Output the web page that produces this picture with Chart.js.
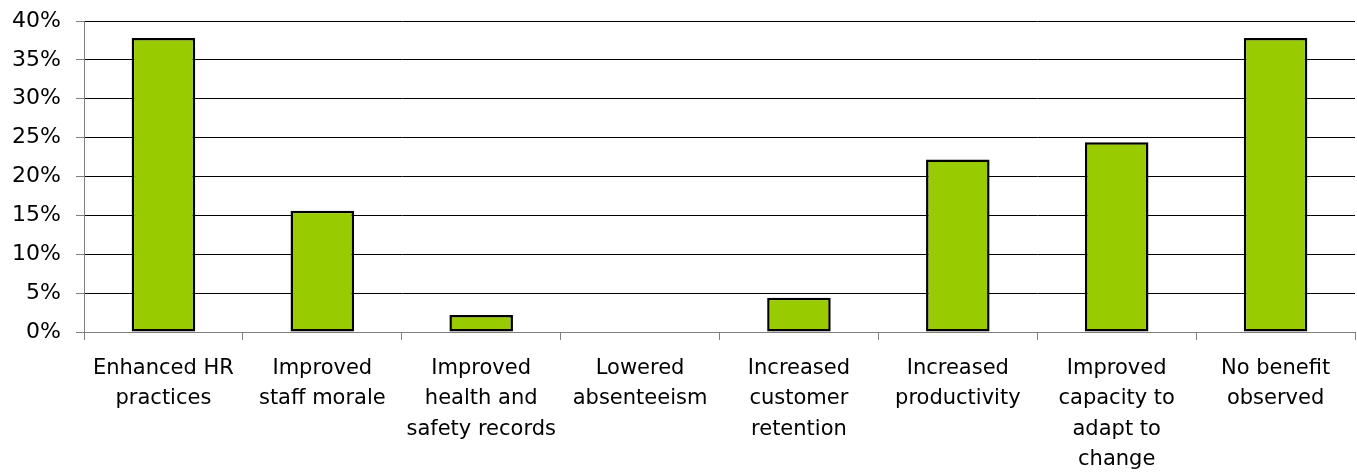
<!DOCTYPE html>
<html>
<head>
<meta charset="utf-8">
<script src="https://cdn.jsdelivr.net/npm/chart.js@4.4.0/dist/chart.umd.min.js"></script>
<style>
  html, body { margin: 0; padding: 0; background: #fff; }
  #wrap { width: 1357px; height: 476px; }
</style>
</head>
<body>
<div id="wrap"><canvas id="benefits-chart"></canvas></div>
<script>
// categories (multi-line, as wrapped in the original)
var categories = [
  ["Enhanced HR", "practices"],
  ["Improved", "staff morale"],
  ["Improved", "health and", "safety records"],
  ["Lowered", "absenteeism"],
  ["Increased", "customer", "retention"],
  ["Increased", "productivity"],
  ["Improved", "capacity to", "adapt to", "change"],
  ["No benefit", "observed"]
];
// share of respondents, percent
var shares = [37.8, 15.6, 2.2, 0, 4.4, 22.2, 24.4, 37.8];
var yTicks = [0, 5, 10, 15, 20, 25, 30, 35, 40];

var font = "'DejaVu Sans', Verdana, sans-serif";

new Chart(document.getElementById("benefits-chart"), {
  type: 'bar',
  data: {
    labels: categories,
    datasets: [{
      label: "Share",
      data: shares,
      backgroundColor: "#99cc00",
      borderColor: "#000000",
      borderWidth: 2.5,
      borderSkipped: false,
      barPercentage: 0.4,
      categoryPercentage: 1.0
    }]
  },
  options: {
    responsive: true,
    maintainAspectRatio: false,
    animation: false,
    layout: { padding: { top: 21, right: 2, left: 0, bottom: 0 } },
    plugins: {
      legend: { display: false },
      tooltip: { enabled: false }
    },
    scales: {
      x: {
        grid: {
          offset: true,
          drawOnChartArea: false,
          drawTicks: true,
          tickLength: 8,
          tickColor: "#808080"
        },
        border: { color: "#808080", width: 1 },
        ticks: {
          color: "#000",
          maxRotation: 0,
          autoSkip: false,
          padding: 14,
          font: { family: font, size: 21, lineHeight: 1.43 }
        },
        afterFit: function (scale) {
          scale.height = 144;
          scale.paddingLeft = 0;
          scale.paddingRight = 0;
        }
      },
      y: {
        min: 0,
        max: 40,
        afterBuildTicks: function (scale) {
          scale.ticks = yTicks.map(function (v) { return { value: v }; });
        },
        grid: {
          color: "#000000",
          lineWidth: 1,
          tickLength: 8,
          tickColor: "#808080"
        },
        border: { color: "#808080", width: 1 },
        ticks: {
          color: "#000",
          padding: 15,
          font: { family: font, size: 22 },
          callback: function (v) { return v + "%"; }
        },
        afterFit: function (scale) {
          scale.width = 84;
          scale.paddingTop = 0;
          scale.paddingBottom = 0;
        }
      }
    }
  }
});
</script>
</body>
</html>
